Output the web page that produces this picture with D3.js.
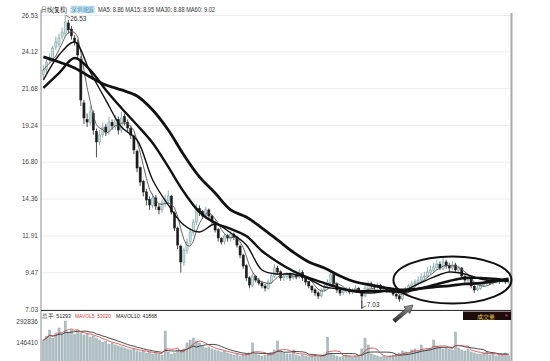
<!DOCTYPE html>
<html><head><meta charset="utf-8">
<script src="https://cdn.jsdelivr.net/npm/d3@7"></script>
<style>body{margin:0;background:#fff}svg{display:block}text{font-family:"Liberation Sans","DejaVu Sans",sans-serif}</style>
</head><body><svg id="c" width="550" height="361"></svg>
<script>
// ---------- data ----------
const closes=[22.88,23.41,23.68,24.34,24.74,25.01,25.40,26.07,25.54,25.14,
 24.74,23.88,20.89,19.70,19.43,20.10,18.90,18.11,18.57,19.04,
 18.77,19.43,19.17,19.57,18.90,19.70,19.43,19.04,18.57,17.58,
 16.38,15.45,14.79,14.26,13.93,14.39,13.86,13.60,14.06,14.26,
 14.53,13.46,12.40,11.27,10.15,10.94,11.47,12.14,12.80,13.73,
 13.46,13.20,13.60,13.20,12.80,12.27,11.74,11.47,11.87,11.74,
 12.00,11.81,11.27,10.61,9.88,9.09,8.62,9.22,8.95,8.75,
 8.56,8.42,8.82,9.22,9.75,9.48,9.09,9.22,9.35,9.09,
 9.29,9.15,9.48,9.09,8.82,8.56,8.29,8.09,7.89,8.29,
 8.56,8.82,9.29,8.69,8.29,8.09,8.22,8.36,8.16,8.29,
 8.42,8.22,7.89,8.42,8.69,8.62,8.49,8.62,8.36,8.42,
 8.22,8.29,8.02,7.89,7.69,8.16,8.36,8.56,8.69,8.82,
 8.95,9.15,9.22,9.48,9.62,9.82,10.01,9.75,10.15,9.88,
 9.75,9.95,9.62,9.75,9.22,8.95,9.02,8.56,8.29,8.42,
 8.62,8.69,8.82,8.75,8.89,8.95,8.89,8.95,8.82,8.86];
const opens=[22.60,22.90,23.50,23.60,24.40,24.60,25.10,25.30,26.00,25.60,
 25.00,24.70,23.60,20.70,19.60,19.40,20.00,18.80,18.10,18.60,
 19.10,18.80,19.40,19.10,19.60,18.90,19.80,19.40,19.00,18.50,
 17.50,16.40,15.50,14.80,14.30,13.90,14.40,13.80,13.60,14.00,
 14.20,14.50,13.40,12.40,11.20,10.10,10.90,11.50,12.10,12.80,
 13.70,13.50,13.20,13.60,13.20,12.80,12.30,11.70,11.50,11.90,
 11.70,12.00,11.80,11.20,10.60,9.90,9.10,8.60,9.20,8.95,
 8.75,8.55,8.40,8.80,9.20,9.75,9.50,9.10,9.20,9.35,
 9.10,9.30,9.15,9.45,9.10,8.85,8.55,8.30,8.10,7.90,
 8.30,8.55,8.80,9.30,8.70,8.30,8.10,8.20,8.35,8.15,
 8.30,8.40,8.20,7.90,8.40,8.70,8.60,8.50,8.60,8.35,
 8.40,8.20,8.30,8.00,7.90,7.70,8.15,8.35,8.55,8.70,
 8.80,8.95,9.15,9.20,9.45,9.60,9.80,10.00,9.75,10.15,
 9.90,9.75,9.95,9.60,9.75,9.20,8.95,9.00,8.55,8.30,
 8.40,8.60,8.70,8.80,8.75,8.90,8.95,8.90,8.95,8.80];
const highs=[23.20,23.60,24.00,24.50,25.10,25.30,25.70,26.53,26.20,25.80,
 25.20,24.90,23.80,20.90,20.00,20.50,20.20,19.00,18.90,19.40,
 19.30,19.80,19.60,19.90,19.80,20.10,20.00,19.60,19.20,18.60,
 17.60,16.50,15.60,15.00,14.50,14.70,14.60,14.00,14.30,14.60,
 14.90,14.60,13.50,12.50,11.30,11.10,11.70,12.30,13.00,14.00,
 13.90,13.60,13.80,13.70,13.30,12.90,12.40,11.80,12.00,12.00,
 12.20,12.10,11.90,11.30,10.70,10.00,9.20,9.40,9.30,9.10,
 8.90,8.70,9.00,9.40,10.00,9.90,9.60,9.40,9.50,9.45,
 9.50,9.40,9.70,9.60,9.20,8.90,8.60,8.40,8.20,8.40,
 8.70,9.00,9.60,9.40,8.80,8.40,8.35,8.50,8.45,8.40,
 8.60,8.50,8.30,8.60,8.90,8.85,8.70,8.80,8.70,8.60,
 8.50,8.45,8.40,8.10,8.00,8.30,8.50,8.70,8.90,9.00,
 9.20,9.40,9.50,9.80,9.90,10.10,10.30,10.20,10.50,10.30,
 10.10,10.20,10.10,9.90,9.80,9.30,9.20,9.10,8.60,8.60,
 8.80,8.85,9.00,8.95,9.00,9.10,9.05,9.05,9.00,8.95];
const lows=[22.30,22.70,23.30,23.40,24.20,24.40,24.90,25.10,25.30,24.90,
 24.50,23.60,20.50,19.30,19.10,19.20,18.60,17.08,17.90,18.40,
 18.50,18.60,18.90,18.90,18.60,18.70,19.20,18.80,18.30,17.30,
 16.10,15.20,14.50,13.90,13.60,13.70,13.60,13.30,13.40,13.80,
 14.00,13.30,12.20,11.00,9.45,9.90,10.70,11.30,11.90,12.60,
 13.20,13.00,13.00,13.00,12.60,12.10,11.50,11.30,11.30,11.50,
 11.50,11.60,11.10,10.40,9.70,8.90,8.40,8.50,8.80,8.60,
 8.40,8.20,8.30,8.70,9.10,9.30,8.90,8.90,9.00,8.90,
 9.00,9.00,9.05,8.90,8.60,8.40,8.10,7.90,7.70,7.80,
 8.20,8.40,8.70,8.50,8.10,7.90,7.95,8.10,8.00,8.00,
 8.20,8.10,7.03,7.80,8.30,8.40,8.30,8.40,8.20,8.20,
 8.10,8.10,7.90,7.70,7.50,7.60,8.00,8.20,8.40,8.50,
 8.60,8.80,9.00,9.10,9.30,9.40,9.60,9.60,9.60,9.70,
 9.50,9.60,9.50,9.40,9.10,8.80,8.80,8.40,8.10,8.20,
 8.30,8.50,8.60,8.60,8.60,8.70,8.70,8.75,8.70,8.70];
const volumes=[160000,188000,230000,174000,209000,244000,202000,292836,216000,230000,
 202000,223000,209000,195000,202000,181000,188000,174000,160000,146000,
 153000,132000,139000,126000,119000,112000,105000,98000,91000,98000,
 84000,77000,84000,70000,77000,63000,70000,63000,56000,223000,
 77000,63000,70000,91000,84000,98000,140000,160000,174000,153000,
 140000,119000,105000,112000,98000,91000,84000,77000,84000,70000,
 63000,56000,63000,49000,56000,63000,70000,140000,63000,56000,
 49000,56000,63000,70000,91000,153000,84000,70000,63000,63000,
 91000,56000,49000,56000,49000,42000,49000,56000,42000,49000,
 63000,181000,70000,56000,49000,42000,49000,56000,49000,42000,
 49000,56000,98000,174000,126000,63000,56000,49000,42000,49000,
 42000,49000,56000,63000,70000,84000,77000,70000,91000,98000,
 84000,126000,91000,98000,105000,160000,119000,112000,98000,105000,
 98000,91000,216000,105000,91000,84000,98000,77000,70000,63000,
 63000,70000,77000,56000,63000,49000,56000,63000,70000,51293];
// moving-average lines, one value every 5 sessions
const maIndex=[0,5,10,15,20,25,30,35,40,45,50,55,60,65,70,75,80,85,90,95,100,105,110,115,120,125,130,135,140,145,149];
const ma15=[22.22,23.88,24.74,22.75,20.89,19.10,18.24,15.59,13.93,12.60,12.14,12.67,12.07,11.28,9.62,9.35,9.35,9.02,8.49,8.36,8.16,8.09,8.22,8.22,8.69,9.15,9.48,9.35,9.02,8.89,8.95];
const ma30=[21.69,22.68,23.68,22.88,21.56,20.36,19.23,18.04,16.45,14.79,13.46,12.73,12.34,11.87,10.88,10.15,9.55,9.09,8.75,8.42,8.22,8.22,8.22,8.16,8.36,8.62,8.89,9.09,9.09,9.02,8.88];
const ma60=[23.75,23.41,23.02,22.42,21.89,21.56,21.16,20.23,18.90,17.24,15.79,14.72,13.60,13.13,12.40,11.61,10.81,10.15,9.75,9.22,8.82,8.62,8.42,8.29,8.36,8.49,8.56,8.69,8.75,8.89,9.02];
const priceTicks=[26.53,24.12,21.68,19.24,16.80,14.36,11.91,9.47,7.03];
const volTicks=[292836,146410];
const headerParts=["日线(复权)","深圳能源","MA5: 8.86 MA15: 8.95 MA30: 8.88 MA60: 9.02"];
const volHeader=["总手: 51293","MAVOL5: 53020","MAVOL10: 41868"];
const highLabel="26.53", lowLabel="7.03", volTitle="成交量";

// ---------- scales ----------
const svg=d3.select("#c");
const N=closes.length;
const x=d3.scaleBand().domain(d3.range(N)).range([42,510]).paddingInner(0.32).paddingOuter(0.1);
const xc=i=>x(i)+x.bandwidth()/2;
const y=d3.scaleLinear().domain([7.03,26.53]).range([309,15]);
const yv=d3.scaleLinear().domain([0,292836]).range([363,321]);

// grid
svg.append("g").attr("transform","translate(41,0)")
 .call(d3.axisRight(y).tickValues(priceTicks).tickSize(470).tickFormat(""))
 .call(g=>g.select(".domain").remove())
 .call(g=>g.selectAll("line").attr("stroke","#ececec"));
// price labels
svg.append("g").attr("transform","translate(41,0)")
 .call(d3.axisLeft(y).tickValues(priceTicks).tickSize(0).tickPadding(3).tickFormat(d3.format(".2f")))
 .call(g=>g.select(".domain").remove())
 .call(g=>g.selectAll("text").attr("font-size",6.5).attr("fill","#444"));
// volume labels
svg.append("g").attr("transform","translate(41,0)")
 .call(d3.axisLeft(yv).tickValues(volTicks).tickSize(0).tickPadding(3).tickFormat(d3.format("d")))
 .call(g=>g.select(".domain").remove())
 .call(g=>g.selectAll("text").attr("font-size",6.5).attr("fill","#444"));

// frame lines
svg.append("line").attr("x1",41).attr("x2",41).attr("y1",10).attr("y2",361).attr("stroke","#8a8a8a");
svg.append("line").attr("x1",511.5).attr("x2",511.5).attr("y1",13).attr("y2",361).attr("stroke","#a8a8a8").attr("stroke-width",2);
svg.append("line").attr("x1",41).attr("x2",511).attr("y1",310.5).attr("y2",310.5).attr("stroke","#333");

// volume bars
const vg=svg.append("g");
vg.selectAll("rect").data(volumes).join("rect")
 .attr("x",(d,i)=>x(i)).attr("width",x.bandwidth())
 .attr("y",d=>yv(d)).attr("height",d=>yv(0)-yv(d))
 .attr("fill","#aebfc3").attr("stroke","#8fa3a8").attr("stroke-width",0.4);
function movAvg(arr,n){return arr.map((d,i)=>d3.mean(arr.slice(Math.max(0,i-n+1),i+1)));}
const volLine=d3.line().x((d,i)=>xc(i)).y(d=>yv(d));
svg.append("path").attr("d",volLine(movAvg(volumes,10))).attr("fill","none").attr("stroke","#333").attr("stroke-width",0.9);
svg.append("path").attr("d",volLine(movAvg(volumes,5))).attr("fill","none").attr("stroke","#d04040").attr("stroke-width",0.8);

// candles
const cg=svg.append("g");
const cs=cg.selectAll("g").data(d3.range(N)).join("g");
cs.append("line").attr("x1",xc).attr("x2",xc).attr("y1",i=>y(highs[i])).attr("y2",i=>y(lows[i]))
 .attr("stroke",i=>closes[i]>=opens[i]?"#6f979c":"#222").attr("stroke-width",0.8);
cs.append("rect").attr("x",i=>x(i)).attr("width",x.bandwidth())
 .attr("y",i=>y(Math.max(opens[i],closes[i])))
 .attr("height",i=>Math.max(0.8,Math.abs(y(opens[i])-y(closes[i]))))
 .attr("fill",i=>closes[i]>=opens[i]?"#c9dfe1":"#1c1c1c")
 .attr("stroke",i=>closes[i]>=opens[i]?"#6f979c":"#1c1c1c").attr("stroke-width",0.5);

// moving averages
const ma5=movAvg(closes,5);
svg.append("path").attr("d",d3.line().x((d,i)=>xc(i)).y(d=>y(d))(ma5))
 .attr("fill","none").attr("stroke","#555").attr("stroke-width",0.9);
const maLine=d3.line().x((d,k)=>xc(maIndex[k])).y(d=>y(d)).curve(d3.curveCatmullRom.alpha(0.5));
[[ma15,1.4],[ma30,2.4],[ma60,2.8]].forEach(([arr,w])=>{
 svg.append("path").attr("d",maLine(arr)).attr("fill","none").attr("stroke","#111").attr("stroke-width",w).attr("stroke-linejoin","round");
});

// high / low annotations
const hi=highs.indexOf(d3.max(highs)), lo=lows.indexOf(d3.min(lows));
svg.append("path").attr("d",`M${xc(hi)+1},${y(highs[hi])+0.5}L${xc(hi)+5},${y(highs[hi])+3}`).attr("stroke","#333").attr("stroke-width",0.7);
svg.append("text").attr("x",xc(hi)+5).attr("y",y(highs[hi])+6).attr("font-size",6.5).attr("fill","#333").text(highLabel);
svg.append("path").attr("d",`M${xc(lo)},${y(lows[lo])-8}L${xc(lo)},${y(lows[lo])-1}L${xc(lo)+4},${y(lows[lo])-3}`).attr("fill","none").attr("stroke","#333").attr("stroke-width",0.7);
svg.append("text").attr("x",xc(lo)+5).attr("y",y(lows[lo])-2).attr("font-size",6.5).attr("fill","#333").text(lowLabel);

// ellipse highlight
svg.append("ellipse").attr("cx",xc(131)).attr("cy",y(8.95)).attr("rx",59).attr("ry",23.5)
 .attr("fill","none").attr("stroke","#111").attr("stroke-width",2);

// arrow
const defs=svg.append("defs");
const gr=defs.append("linearGradient").attr("id","ag").attr("x1","0").attr("y1","0").attr("x2","0").attr("y2","1");
gr.append("stop").attr("offset","0").attr("stop-color","#9a9a9a");
gr.append("stop").attr("offset","1").attr("stop-color","#2a2a2a");
svg.append("path").attr("d","M395.2,322.4L392.8,319.6L405.7,308.8L404,306.8L413,305L409.8,313.6L408.1,311.6Z")
 .attr("fill","url(#ag)").attr("stroke","#222").attr("stroke-width",0.6);

// header texts
const hPos=[[41,26,"#222"],[71,23,"#2f7fb0"],[98,117,"#333"]];
svg.append("rect").attr("x",70).attr("y",5.5).attr("width",25).attr("height",8).attr("fill","#d6ebf5");
headerParts.forEach((t,k)=>svg.append("text").attr("x",hPos[k][0]).attr("y",12).attr("font-size",6.5)
 .attr("textLength",hPos[k][1]).attr("lengthAdjust","spacingAndGlyphs").attr("fill",hPos[k][2]).text(t));
const vPos=[[42,29,"#222"],[75,36,"#d03c3c"],[116,41,"#222"]];
volHeader.forEach((t,k)=>svg.append("text").attr("x",vPos[k][0]).attr("y",318).attr("font-size",5.6)
 .attr("textLength",vPos[k][1]).attr("lengthAdjust","spacingAndGlyphs").attr("fill",vPos[k][2]).text(t));
// volume title box
svg.append("rect").attr("x",463).attr("y",311.5).attr("width",48).attr("height",8.5).attr("fill","#1e0c0c");
svg.append("text").attr("x",486).attr("y",318.5).attr("text-anchor","middle").attr("font-size",6.3).attr("fill","#e8d23c").text(volTitle);
svg.append("rect").attr("x",505.5).attr("y",314.5).attr("width",2).attr("height",2).attr("fill","#d8306a");
</script></body></html>
